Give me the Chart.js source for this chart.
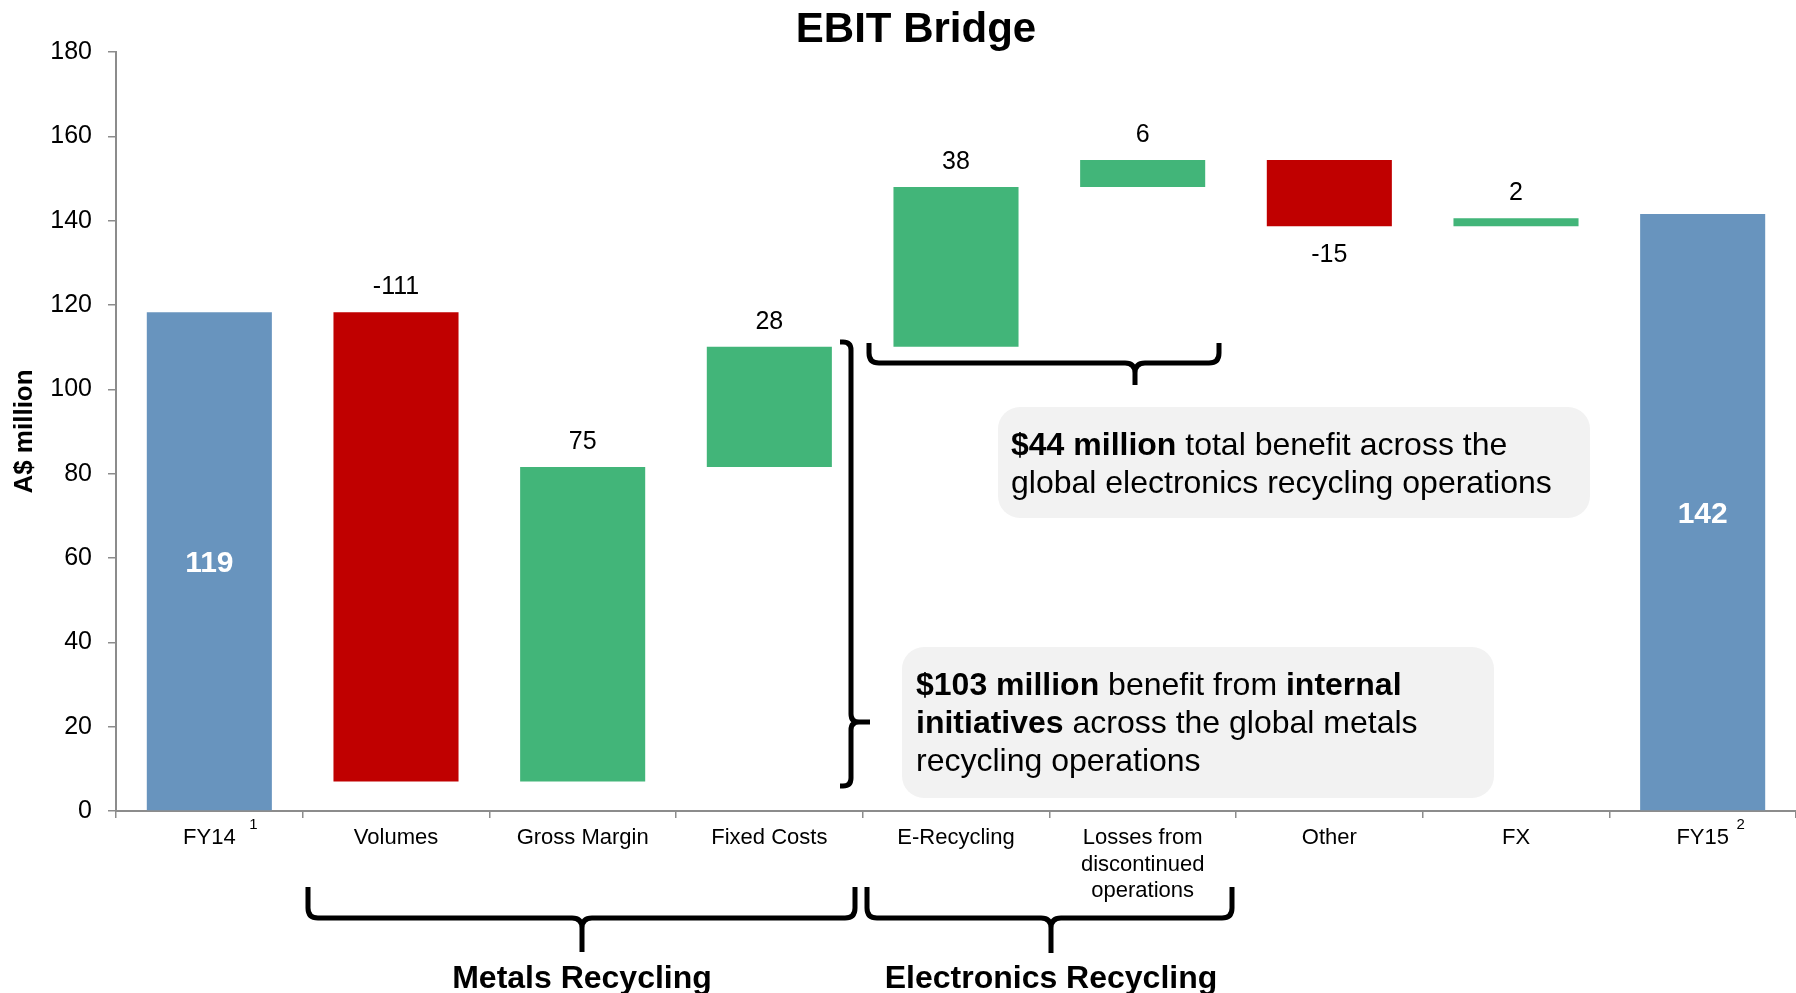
<!DOCTYPE html>
<html>
<head>
<meta charset="utf-8">
<title>EBIT Bridge</title>
<script src="https://cdn.jsdelivr.net/npm/chart.js@4.4.1/dist/chart.umd.min.js"></script>
<style>
  html, body { margin: 0; padding: 0; background: #fff; }
  #wrap { width: 1796px; height: 993px; }
</style>
</head>
<body>
<div id="wrap"><canvas id="myChart" width="1796" height="993"></canvas></div>
<script>
// Bridge data (A$ million)
const categories = ['FY14', 'Volumes', 'Gross Margin', 'Fixed Costs', 'E-Recycling',
    ['Losses from', 'discontinued', 'operations'], 'Other', 'FX', 'FY15'];
const valueLabels = ['119', '-111', '75', '28', '38', '6', '-15', '2', '142'];
const barBottoms = [0, 7.0, 7.0, 81.6, 110.1, 148.0, 138.7, 138.7, 0];
const barTops = [118.3, 118.3, 81.6, 110.1, 148.0, 154.4, 154.4, 140.6, 141.6];
const barKinds = ['total', 'down', 'up', 'up', 'up', 'up', 'down', 'up', 'total'];
const footnotes = ['1', '', '', '', '', '', '', '', '2'];
const yMin = 0;
const yMax = 180;
const yStep = 20;

const FONT = '"Liberation Sans", Arial, Helvetica, sans-serif';
const kindColors = { total: '#6894BE', down: '#C00000', up: '#42B579' };

// where the value label sits relative to its bar
const labelPlacement = ['inside', 'above', 'above', 'above', 'above', 'above', 'below', 'above', 'inside'];

function drawRich(ctx, x, y, parts, size) {
    let cx = x;
    parts.forEach(([text, bold]) => {
        ctx.font = (bold ? 'bold ' : '') + size + 'px ' + FONT;
        ctx.fillText(text, cx, y);
        cx += ctx.measureText(text).width;
    });
}

// curly brace, opening upward, tip pointing down
function braceDown(ctx, x1, x2, yTop, yLine, tipX, tipY) {
    const r = 10;
    ctx.beginPath();
    ctx.moveTo(x1, yTop);
    ctx.lineTo(x1, yLine - r);
    ctx.quadraticCurveTo(x1, yLine, x1 + r, yLine);
    ctx.lineTo(tipX - r, yLine);
    ctx.quadraticCurveTo(tipX, yLine, tipX, yLine + r);
    ctx.lineTo(tipX, tipY);
    ctx.moveTo(tipX, yLine + r);
    ctx.quadraticCurveTo(tipX, yLine, tipX + r, yLine);
    ctx.lineTo(x2 - r, yLine);
    ctx.quadraticCurveTo(x2, yLine, x2, yLine - r);
    ctx.lineTo(x2, yTop);
    ctx.stroke();
}

// curly brace, opening left, tip pointing right
function braceRight(ctx, xHook, xLine, y1, y2, tipY, tipX) {
    const r = 8;
    ctx.beginPath();
    ctx.moveTo(xHook, y1);
    ctx.lineTo(xLine - r, y1);
    ctx.quadraticCurveTo(xLine, y1, xLine, y1 + r);
    ctx.lineTo(xLine, tipY - r);
    ctx.quadraticCurveTo(xLine, tipY, xLine + r, tipY);
    ctx.lineTo(tipX, tipY);
    ctx.moveTo(xLine + r, tipY);
    ctx.quadraticCurveTo(xLine, tipY, xLine, tipY + r);
    ctx.lineTo(xLine, y2 - r);
    ctx.quadraticCurveTo(xLine, y2, xLine - r, y2);
    ctx.lineTo(xHook, y2);
    ctx.stroke();
}

function roundBox(ctx, x, y, w, h, r) {
    ctx.beginPath();
    ctx.roundRect(x, y, w, h, r);
    ctx.fillStyle = '#F2F2F2';
    ctx.fill();
}

const bridgePlugin = {
    id: 'bridgeExtras',
    afterDatasetsDraw(chart) {
        const ctx = chart.ctx;
        const meta = chart.getDatasetMeta(0);
        ctx.save();
        ctx.textAlign = 'center';
        ctx.textBaseline = 'middle';
        meta.data.forEach((bar, i) => {
            const top = Math.min(bar.y, bar.base);
            const bottom = Math.max(bar.y, bar.base);
            const place = labelPlacement[i];
            if (place === 'inside') {
                ctx.font = 'bold 30px ' + FONT;
                ctx.fillStyle = '#fff';
                ctx.fillText(valueLabels[i], bar.x, (top + bottom) / 2 + 3);
            } else if (place === 'above') {
                ctx.font = '25px ' + FONT;
                ctx.fillStyle = '#000';
                ctx.fillText(valueLabels[i], bar.x, top - 25);
            } else {
                ctx.font = '25px ' + FONT;
                ctx.fillStyle = '#000';
                ctx.fillText(valueLabels[i], bar.x, bottom + 29);
            }
        });
        ctx.restore();
    },
    afterDraw(chart) {
        const ctx = chart.ctx;
        const xs = chart.scales.x;
        ctx.save();

        // title
        ctx.fillStyle = '#000';
        ctx.textAlign = 'center';
        ctx.textBaseline = 'middle';
        ctx.font = 'bold 42px ' + FONT;
        ctx.fillText('EBIT Bridge', 916, 30);

        // footnote markers on the first / last category labels
        ctx.font = '15px ' + FONT;
        footnotes.forEach((f, i) => {
            if (!f) return;
            const off = i === 0 ? 44 : 38;
            ctx.fillText(f, xs.getPixelForValue(i) + off, 825);
        });

        // braces
        ctx.strokeStyle = '#000';
        ctx.lineWidth = 5;
        ctx.lineJoin = 'round';
        braceDown(ctx, 308, 855, 887, 918, 582, 952);
        braceDown(ctx, 867, 1232, 887, 918, 1051, 953);
        braceDown(ctx, 869, 1219, 343, 363, 1135, 385);
        braceRight(ctx, 840, 851, 342, 786, 722, 870);

        // group labels
        ctx.fillStyle = '#000';
        ctx.textBaseline = 'alphabetic';
        ctx.font = 'bold 32px ' + FONT;
        ctx.fillText('Metals Recycling', 582, 988);
        ctx.fillText('Electronics Recycling', 1051, 988);

        // call-out boxes
        roundBox(ctx, 998, 407, 592, 111, 22);
        roundBox(ctx, 902, 647, 592, 151, 22);
        ctx.fillStyle = '#000';
        ctx.textAlign = 'left';
        ctx.textBaseline = 'middle';
        drawRich(ctx, 1011, 446, [['$44 million', true], [' total benefit across the', false]], 32);
        drawRich(ctx, 1011, 484, [['global electronics recycling operations', false]], 32);
        drawRich(ctx, 916, 686, [['$103 million', true], [' benefit from ', false], ['internal', true]], 32);
        drawRich(ctx, 916, 724, [['initiatives', true], [' across the global metals', false]], 32);
        drawRich(ctx, 916, 762, [['recycling operations', false]], 32);

        ctx.restore();
    }
};

function renderChart() {
    const ctx = document.getElementById('myChart').getContext('2d');
    const floating = barBottoms.map((b, i) => [b, barTops[i]]);
    new Chart(ctx, {
        type: 'bar',
        data: {
            labels: categories,
            datasets: [{
                data: floating,
                backgroundColor: barKinds.map(k => kindColors[k]),
                borderWidth: 0,
                barPercentage: 0.67,
                categoryPercentage: 1.0
            }]
        },
        options: {
            responsive: false,
            animation: false,
            devicePixelRatio: 1,
            layout: { padding: { top: 52, left: 0, right: 0, bottom: 0 } },
            plugins: {
                legend: { display: false },
                tooltip: { enabled: false },
                title: { display: false }
            },
            scales: {
                x: {
                    grid: { offset: true, drawOnChartArea: false, drawTicks: true, tickLength: 7, color: '#8c8c8c', lineWidth: 1.5 },
                    border: { color: '#8c8c8c', width: 2 },
                    ticks: { color: '#000', font: { size: 22, family: FONT }, padding: 7, maxRotation: 0, autoSkip: false },
                    afterFit: s => { s.height = 182; }
                },
                y: {
                    min: yMin,
                    max: yMax,
                    grid: { drawOnChartArea: false, drawTicks: true, tickLength: 8, color: '#8c8c8c', lineWidth: 1.5 },
                    border: { color: '#8c8c8c', width: 2 },
                    ticks: { stepSize: yStep, color: '#000', font: { size: 25, family: FONT }, padding: 16 },
                    title: {
                        display: true,
                        text: 'A$ million',
                        color: '#000',
                        font: { size: 26, weight: 'bold', family: FONT },
                        padding: { top: 9, bottom: 0 }
                    },
                    afterFit: s => { s.width = 116; }
                }
            }
        },
        plugins: [bridgePlugin]
    });
}

renderChart();
</script>
</body>
</html>
